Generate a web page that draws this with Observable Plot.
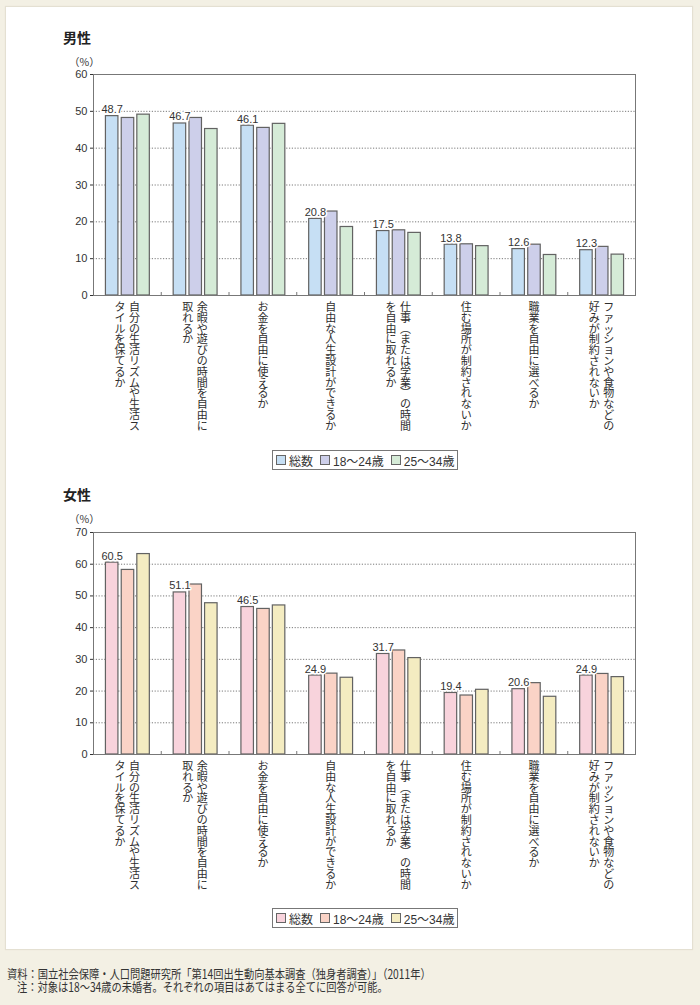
<!DOCTYPE html>
<html><head><meta charset="utf-8">
<script src="https://cdn.jsdelivr.net/npm/d3@7"></script>
<script src="https://cdn.jsdelivr.net/npm/@observablehq/plot@0.6"></script>
<style>
body{margin:0;width:700px;height:1005px;background:#f3f0e4;position:relative;overflow:hidden;font-family:"Liberation Sans","Noto Sans CJK JP",sans-serif;color:#333}
#panel{position:absolute;left:6px;top:7px;width:686px;height:942px;background:#fff;box-shadow:0 0 1px 1px #e4e0d2}
.abs{position:absolute;width:700px}
.title{position:absolute;font-family:"Noto Sans CJK JP";font-weight:bold;font-size:14px;line-height:14px;color:#222}
.pct{position:absolute;font-family:"Noto Sans CJK JP";font-size:10.5px;line-height:11px;color:#333}
.legend{position:absolute;box-sizing:border-box;border:1px solid #777;background:#fff;display:flex;align-items:center;height:20px;padding:0 2px 0 3px;font-size:12px;font-family:"Liberation Sans","Noto Sans CJK JP";color:#333;white-space:nowrap}
.sw{display:inline-block;box-sizing:border-box;width:10px;height:10px;border:1px solid #666;margin-right:3px}
.item{display:flex;align-items:center;margin-right:7px}
.item:last-child{margin-right:0}
.note{position:absolute;font-family:"Noto Sans CJK JP";font-size:12.5px;line-height:13px;transform:scaleX(0.82);transform-origin:0 0;white-space:nowrap;color:#333}
.abs svg{display:block;max-width:none !important;overflow:visible}
</style></head><body>
<div id="panel"></div>
<div class="title" style="left:63px;top:30px">男性</div>
<div class="pct" style="left:69px;top:56px">（%）</div>
<div id="men" class="abs" style="left:0;top:64px"></div>
<div id="legendMen" class="legend" style="left:272px;top:450px;width:186px"></div>
<div class="title" style="left:63px;top:487px">女性</div>
<div class="pct" style="left:69px;top:513px">（%）</div>
<div id="women" class="abs" style="left:0;top:522px"></div>
<div id="legendWomen" class="legend" style="left:272px;top:908px;width:186px"></div>
<div class="note" style="left:7px;top:967px">資料：国立社会保障・人口問題研究所「第14回出生動向基本調査（独身者調査）」（2011年）</div>
<div class="note" style="left:17px;top:980px">注：対象は18～34歳の未婚者。それぞれの項目はあてはまる全てに回答が可能。</div>
<script>
const categories = [
  "自分の生活リズムや生活スタイルを保てるか",
  "余暇や遊びの時間を自由に取れるか",
  "お金を自由に使えるか",
  "自由な人生設計ができるか",
  "仕事（または学業）の時間を自由に取れるか",
  "住む場所が制約されないか",
  "職業を自由に選べるか",
  "ファッションや食物などの好みが制約されないか"
];
const labelColumns = [
  ["自分の生活リズムや生活ス", "タイルを保てるか"],
  ["余暇や遊びの時間を自由に", "取れるか"],
  ["お金を自由に使えるか"],
  ["自由な人生設計ができるか"],
  ["仕事（または学業）の時間", "を自由に取れるか"],
  ["住む場所が制約されないか"],
  ["職業を自由に選べるか"],
  ["ファッションや食物などの", "好みが制約されないか"]
];
const seriesNames = ["総数", "18〜24歳", "25〜34歳"];

const menTotal = [48.7, 46.7, 46.1, 20.8, 17.5, 13.8, 12.6, 12.3];
const men18to24 = [48.2, 48.2, 45.5, 22.8, 17.7, 13.9, 13.8, 13.2];
const men25to34 = [49.1, 45.2, 46.6, 18.6, 17.0, 13.4, 11.0, 11.1];

const womenTotal = [60.5, 51.1, 46.5, 24.9, 31.7, 19.4, 20.6, 24.9];
const women18to24 = [58.2, 53.6, 45.9, 25.5, 32.8, 18.6, 22.5, 25.4];
const women25to34 = [63.2, 47.7, 47.0, 24.2, 30.4, 20.4, 18.2, 24.4];

const menColors = ["#c6dff4", "#cdcfea", "#d5ebd7"];
const womenColors = ["#f8d3dc", "#fad3c6", "#f4ecc1"];

const menYMax = 60, womenYMax = 70;

// stack characters one per line to write vertically; use vertical presentation forms for brackets
function vertical(s) {
  return Array.from(s.replace(/（/g, "︵").replace(/）/g, "︶")).join("\n");
}

function chart(series, colors, yMax, frameH) {
  const W = 700, ml = 93, mr = 65, mt = 10, mb = 150;
  const B = (W - ml - mr) / categories.length;
  const barW = 12.5, offsets = [-15.2, 0.6, 16.2];
  const rows = [];
  series.forEach((vals, si) => categories.forEach((c, ci) => rows.push({cat: c, si, value: vals[ci]})));
  const labels = categories.map((c, i) => ({cat: c, cols: labelColumns[i]}));
  const tickLen = yMax * 3 / frameH;
  const labelOpts = {frameAnchor: "bottom", dy: 8, textAnchor: "middle", lineAnchor: "top", lineHeight: 0.98,
    fontSize: 11, fontFamily: "Noto Sans CJK JP", fill: "#2e2e2e"};
  const svg = Plot.plot({
    width: W, height: mt + frameH + mb,
    marginLeft: ml, marginRight: mr, marginTop: mt, marginBottom: mb,
    style: {fontFamily: "Liberation Sans, sans-serif", fontSize: "11px", color: "#333", background: "transparent", overflow: "visible"},
    x: {domain: categories, padding: 0, round: false, axis: null},
    y: {domain: [0, yMax], ticks: yMax / 10, tickSize: 3, tickPadding: 3, label: null},
    marks: [
      Plot.ruleY(d3.range(10, yMax, 10), {stroke: "#7a7a7a", strokeWidth: 1, strokeDasharray: "1.2,1.6"}),
      ...series.map((_, si) => Plot.barY(rows.filter(r => r.si === si), {
        x: "cat", y: "value", fill: colors[si], stroke: "#626262", strokeWidth: 1.2,
        insetLeft: B / 2 + offsets[si] - barW / 2, insetRight: B / 2 - offsets[si] - barW / 2
      })),
      Plot.frame({stroke: "#777", strokeWidth: 1}),
      Plot.ruleX(categories.slice(1), {x: d => d, dx: -B / 2, y1: 0, y2: tickLen, stroke: "#777"}),
      Plot.text(rows.filter(r => r.si === 0), {
        x: "cat", y: "value", text: d => d.value.toFixed(1), dx: offsets[0], dy: -3, lineAnchor: "bottom",
        fontSize: 11, fill: "#333", stroke: "white", strokeWidth: 3, paintOrder: "stroke"
      }),
      Plot.text(labels.filter(d => d.cols.length === 1), {...labelOpts, x: "cat", text: d => vertical(d.cols[0]), dx: 0}),
      Plot.text(labels.filter(d => d.cols.length === 2), {...labelOpts, x: "cat", text: d => vertical(d.cols[0]), dx: 7}),
      Plot.text(labels.filter(d => d.cols.length === 2), {...labelOpts, x: "cat", text: d => vertical(d.cols[1]), dx: -7.5})
    ]
  });
  return svg;
}

function legend(el, colors) {
  seriesNames.forEach((name, i) => {
    const item = document.createElement("span");
    item.className = "item";
    const sw = document.createElement("span");
    sw.className = "sw";
    sw.style.background = colors[i];
    item.appendChild(sw);
    item.appendChild(document.createTextNode(name));
    el.appendChild(item);
  });
}

document.getElementById("men").appendChild(chart([menTotal, men18to24, men25to34], menColors, menYMax, 221));
document.getElementById("women").appendChild(chart([womenTotal, women18to24, women25to34], womenColors, womenYMax, 222));
legend(document.getElementById("legendMen"), menColors);
legend(document.getElementById("legendWomen"), womenColors);
</script>
</body></html>
